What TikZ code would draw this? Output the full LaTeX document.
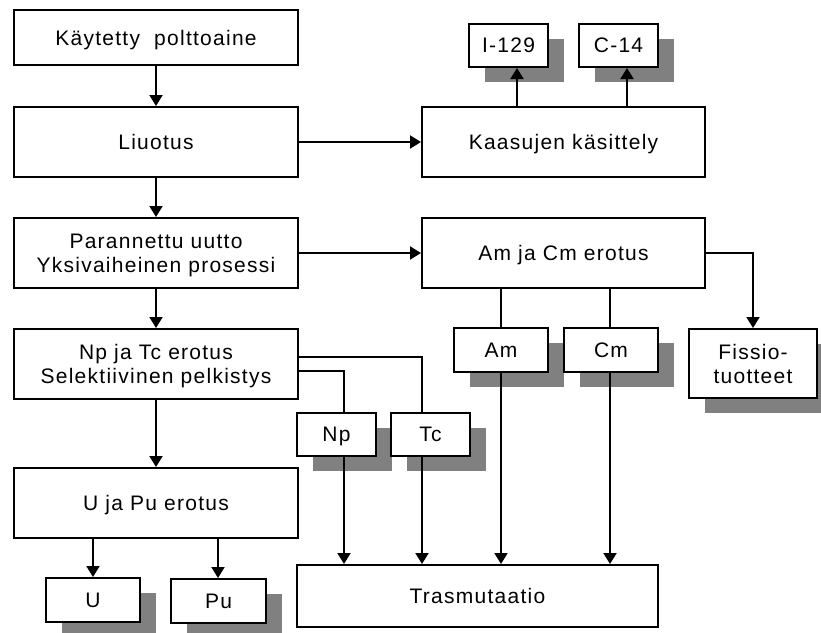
\documentclass[tikz,border=0pt]{standalone}
\usepackage{fontspec}
\setmainfont{Liberation Sans}[LetterSpace=6]
\usetikzlibrary{arrows.meta,shadows}
\definecolor{shadowgray}{RGB}{128,128,128}
\begin{document}
\begin{tikzpicture}[x=1pt,y=-1pt,
  box/.style={draw, line width=2pt, fill=white, inner sep=0pt, align=center,
    text depth=0pt, font=\fontsize{21}{24}\selectfont},
  sbox/.style={box, drop shadow={shadow xshift=16pt, shadow yshift=-15pt,
    fill=shadowgray, opacity=1, draw=none}},
  ln/.style={line width=2pt},
  arr/.style={line width=2pt, -{Triangle[width=13pt,length=11pt]}}]
\useasboundingbox (0,0) rectangle (821,632);
% main column
\node[box, minimum width=284pt, minimum height=55pt] (k1) at (156,37.5) {Käytetty\ \ polttoaine};
\node[box, minimum width=284pt, minimum height=70pt] (liu) at (156,142) {Liuotus};
\node[box, minimum width=284pt, minimum height=70pt] (par) at (156,253) {Parannettu uutto\\Yksivaiheinen prosessi};
\node[box, minimum width=284pt, minimum height=70pt] (nptc) at (156,364) {Np ja Tc erotus\\Selektiivinen pelkistys};
\node[box, minimum width=284pt, minimum height=70pt] (upu) at (156,503) {U ja Pu erotus};
% right column
\node[box, minimum width=283pt, minimum height=70pt] (kaa) at (563.5,142) {Kaasujen käsittely};
\node[box, minimum width=283pt, minimum height=70pt] (amcm) at (563.5,253) {Am ja Cm erotus};
\node[box, minimum width=361pt, minimum height=62pt] (tras) at (477.5,596) {Trasmutaatio};
% small boxes with shadows
\node[sbox, minimum width=79pt, minimum height=43pt] (i129) at (508.5,45.5) {I-129};
\node[sbox, minimum width=79pt, minimum height=43pt] (c14) at (618.5,45.5) {C-14};
\node[sbox, minimum width=79pt, minimum height=43pt] (np) at (336.5,434.5) {Np};
\node[sbox, minimum width=79pt, minimum height=43pt] (tc) at (430.5,434.5) {Tc};
\node[sbox, minimum width=94pt, minimum height=44pt] (am) at (501,350) {Am};
\node[sbox, minimum width=94pt, minimum height=44pt] (cm) at (611,350) {Cm};
\node[sbox, minimum width=128pt, minimum height=69pt] (fis) at (753,363.5) {Fissio-\\tuotteet};
\node[sbox, minimum width=94pt, minimum height=44pt] (u) at (93,600) {U};
\node[sbox, minimum width=95pt, minimum height=44pt] (pu) at (218.5,601) {Pu};
% x positions of connectors
\coordinate (xi) at (517,0);
\coordinate (xc) at (627,0);
\coordinate (xnp) at (344,0);
\coordinate (xtc) at (422,0);
\coordinate (xam) at (501,0);
\coordinate (xcm) at (610,0);
\coordinate (xu) at (93,0);
\coordinate (xpu) at (218,0);
% connectors
\draw[arr] (k1) -- (liu);
\draw[arr] (liu) -- (par);
\draw[arr] (par) -- (nptc);
\draw[arr] (nptc) -- (upu);
\draw[arr] (liu.east) -- (kaa.west);
\draw[arr] (par.east) -- (amcm.west);
\draw[arr] (xi |- kaa.north) -- (xi |- i129.south);
\draw[arr] (xc |- kaa.north) -- (xc |- c14.south);
\draw[arr] (amcm.east) -| (fis.north);
\draw[ln] (xam |- amcm.south) -- (xam |- am.north);
\draw[ln] (xcm |- amcm.south) -- (xcm |- cm.north);
\draw[arr] (xam |- am.south) -- (xam |- tras.north);
\draw[arr] (xcm |- cm.south) -- (xcm |- tras.north);
\draw[ln] (nptc.east |- 0,357) -| (xtc |- tc.north);
\draw[ln] (nptc.east |- 0,371) -| (xnp |- np.north);
\draw[arr] (xnp |- np.south) -- (xnp |- tras.north);
\draw[arr] (xtc |- tc.south) -- (xtc |- tras.north);
\draw[arr] (xu |- upu.south) -- (xu |- u.north);
\draw[arr] (xpu |- upu.south) -- (xpu |- pu.north);
\end{tikzpicture}
\end{document}
